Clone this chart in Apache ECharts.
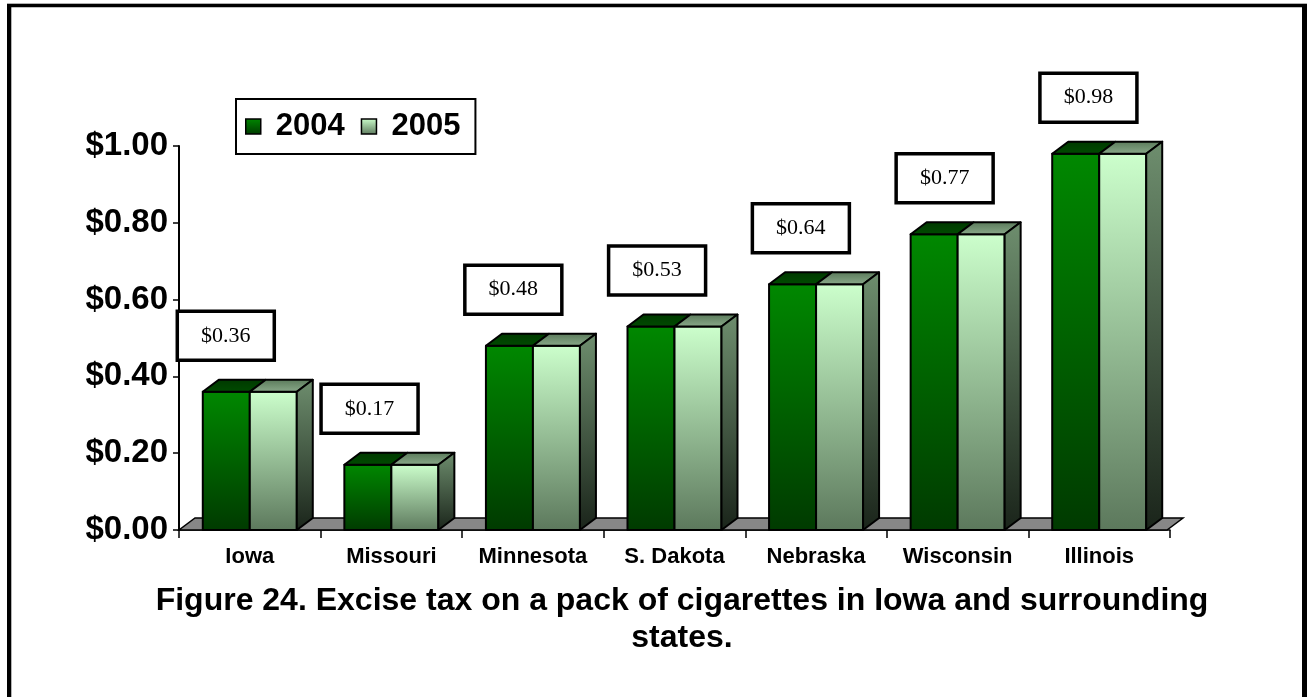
<!DOCTYPE html>
<html>
<head>
<meta charset="utf-8">
<title>Cigarette excise tax</title>
<script src="https://cdn.jsdelivr.net/npm/echarts@6/dist/echarts.min.js"></script>
<style>
  html, body { margin: 0; padding: 0; background: #fff; }
  #chart { width: 1307px; height: 697px; }
</style>
</head>
<body>
<div id="chart"></div>
<script>
// Excise tax per pack of cigarettes, 2004 and 2005
const states = ['Iowa', 'Missouri', 'Minnesota', 'S. Dakota', 'Nebraska', 'Wisconsin', 'Illinois'];
const tax2004 = [0.36, 0.17, 0.48, 0.53, 0.64, 0.77, 0.98];
const tax2005 = [0.36, 0.17, 0.48, 0.53, 0.64, 0.77, 0.98];
const yTicks = [0, 0.2, 0.4, 0.6, 0.8, 1.0];
const titleLines = ['Figure 24. Excise tax on a pack of cigarettes in Iowa and surrounding', 'states.'];

const G = echarts.graphic;
const DX = 16, DY = 12;           // depth of the 3D boxes
const SANS = '"Liberation Sans", Arial, sans-serif';
const SERIF = '"Liberation Serif", "Times New Roman", serif';

const grad = (a, b) => new G.LinearGradient(0, 0, 0, 1, [{ offset: 0, color: a }, { offset: 1, color: b }]);
const front2004 = () => grad('#008800', '#003a00');
const front2005 = () => grad('#ccffcc', '#5c785c');
const sideFill = () => grad('#6e8e6e', '#1a241a');
const top2004 = () => grad('#003800', '#004c00');
const top2005 = () => grad('#587858', '#8cab8c');

function boxRenderer(which) {
  return function (params, api) {
    const i = api.value(0);
    const v = api.value(1);
    const base = api.coord([i, 0]);
    const top = api.coord([i, v]);
    const band = api.size([1, 0])[0];
    const w = band * 0.332;
    const x0 = which === 0 ? base[0] - w : base[0];
    const x1 = x0 + w;
    const yT = top[1], yB = base[1];
    const stroke = { stroke: '#000', lineWidth: 2, lineJoin: 'round' };
    const children = [
      { type: 'rect', shape: { x: x0, y: yT, width: w, height: yB - yT },
        style: Object.assign({ fill: which === 0 ? front2004() : front2005() }, stroke) },
      { type: 'polygon', shape: { points: [[x0, yT], [x1, yT], [x1 + DX, yT - DY], [x0 + DX, yT - DY]] },
        style: Object.assign({ fill: which === 0 ? top2004() : top2005() }, stroke) }
    ];
    if (which === 1) {
      children.push({ type: 'polygon',
        shape: { points: [[x1, yT], [x1 + DX, yT - DY], [x1 + DX, yB - DY], [x1, yB]] },
        style: Object.assign({ fill: sideFill() }, stroke) });
    }
    return { type: 'group', children };
  };
}

function floorRenderer(params, api) {
  const cs = params.coordSys;
  const yB = cs.y + cs.height;
  const xL = cs.x, xR = cs.x + cs.width - 3;
  return {
    type: 'polygon',
    shape: { points: [[xL, yB], [xR, yB], [xR + DX, yB - DY], [xL + DX, yB - DY]] },
    style: { fill: '#878787', stroke: '#000', lineWidth: 1.5 }
  };
}

function labelRenderer(params, api) {
  const i = api.value(0);
  const v = api.value(1);
  const top = api.coord([i, v]);
  const cx = top[0] - 24 + i * 2.2;
  const cy = top[1] - 56;
  const bw = 97, bh = 49;
  return {
    type: 'group',
    children: [
      { type: 'rect', shape: { x: cx - bw / 2, y: cy - bh / 2, width: bw, height: bh },
        style: { fill: '#fff', stroke: '#000', lineWidth: 3.5 } },
      { type: 'text', style: { x: cx, y: cy, text: '$' + v.toFixed(2), align: 'center', verticalAlign: 'middle',
        font: '22px ' + SERIF, fill: '#000' } }
    ]
  };
}

const chart = echarts.init(document.getElementById('chart'), null, { renderer: 'canvas' });

chart.setOption({
  animation: false,
  backgroundColor: '#fff',
  title: {
    text: titleLines.join('\n'),
    left: 677, top: 578, textAlign: 'center',
    textStyle: { fontFamily: SANS, fontWeight: 'bold', fontSize: 32, lineHeight: 37, color: '#000' }
  },
  legend: {
    left: 236, top: 99,
    orient: 'horizontal',
    padding: [10, 15, 10, 9],
    itemGap: 16,
    itemWidth: 15, itemHeight: 15,
    icon: 'rect',
    borderColor: '#000', borderWidth: 2,
    backgroundColor: '#fff',
    textStyle: { fontFamily: SANS, fontWeight: 'bold', fontSize: 31, lineHeight: 35, color: '#000', padding: [0, 0, 0, 10] },
    data: [
      { name: '2004', itemStyle: { color: front2004(), borderColor: '#000', borderWidth: 1.5 } },
      { name: '2005', itemStyle: { color: front2005(), borderColor: '#000', borderWidth: 1.5 } }
    ]
  },
  grid: { left: 179, right: 137, top: 146, bottom: 167, containLabel: false },
  xAxis: {
    type: 'category',
    data: states,
    boundaryGap: true,
    axisLine: { show: true, lineStyle: { color: '#000', width: 1.5 } },
    axisTick: { show: true, interval: 0, length: 8, lineStyle: { color: '#000', width: 1.5 } },
    axisLabel: { interval: 0, margin: 16, fontFamily: SANS, fontWeight: 'bold', fontSize: 22, color: '#000' },
    splitLine: { show: false }
  },
  yAxis: {
    type: 'value',
    min: 0, max: 1, interval: 0.2,
    axisLine: { show: true, lineStyle: { color: '#000', width: 2 } },
    axisTick: { show: true, length: 6, lineStyle: { color: '#000', width: 1.5 } },
    axisLabel: {
      margin: 11, fontFamily: SANS, fontWeight: 'bold', fontSize: 33, color: '#000',
      formatter: v => yTicks.some(t => Math.abs(t - v) < 1e-9) ? '$' + v.toFixed(2) : ''
    },
    splitLine: { show: false }
  },
  series: [
    { type: 'custom', name: 'floor', renderItem: floorRenderer, data: [[0, 0]], z: 1, silent: true },
    { type: 'custom', name: '2004', renderItem: boxRenderer(0), z: 2,
      itemStyle: { color: '#006400' },
      encode: { x: 0, y: 1 }, data: tax2004.map((v, i) => [i, v]) },
    { type: 'custom', name: '2005', renderItem: boxRenderer(1), z: 3,
      itemStyle: { color: '#b8e8b8' },
      encode: { x: 0, y: 1 }, data: tax2005.map((v, i) => [i, v]) },
    { type: 'custom', name: 'labels', renderItem: labelRenderer, z: 4, silent: true,
      encode: { x: 0, y: 1 }, data: tax2005.map((v, i) => [i, v]) }
  ],
  graphic: [
    { type: 'rect', shape: { x: 7, y: 3, width: 1300, height: 1 }, style: { fill: '#b0b0b0' }, z: 10 },
    { type: 'rect', shape: { x: 7, y: 4, width: 1300, height: 3.3 }, style: { fill: '#000' }, z: 10 },
    { type: 'rect', shape: { x: 7, y: 4, width: 4.3, height: 700 }, style: { fill: '#000' }, z: 10 },
    { type: 'rect', shape: { x: 1302, y: 4, width: 5, height: 700 }, style: { fill: '#000' }, z: 10 }
  ]
});
</script>
</body>
</html>
